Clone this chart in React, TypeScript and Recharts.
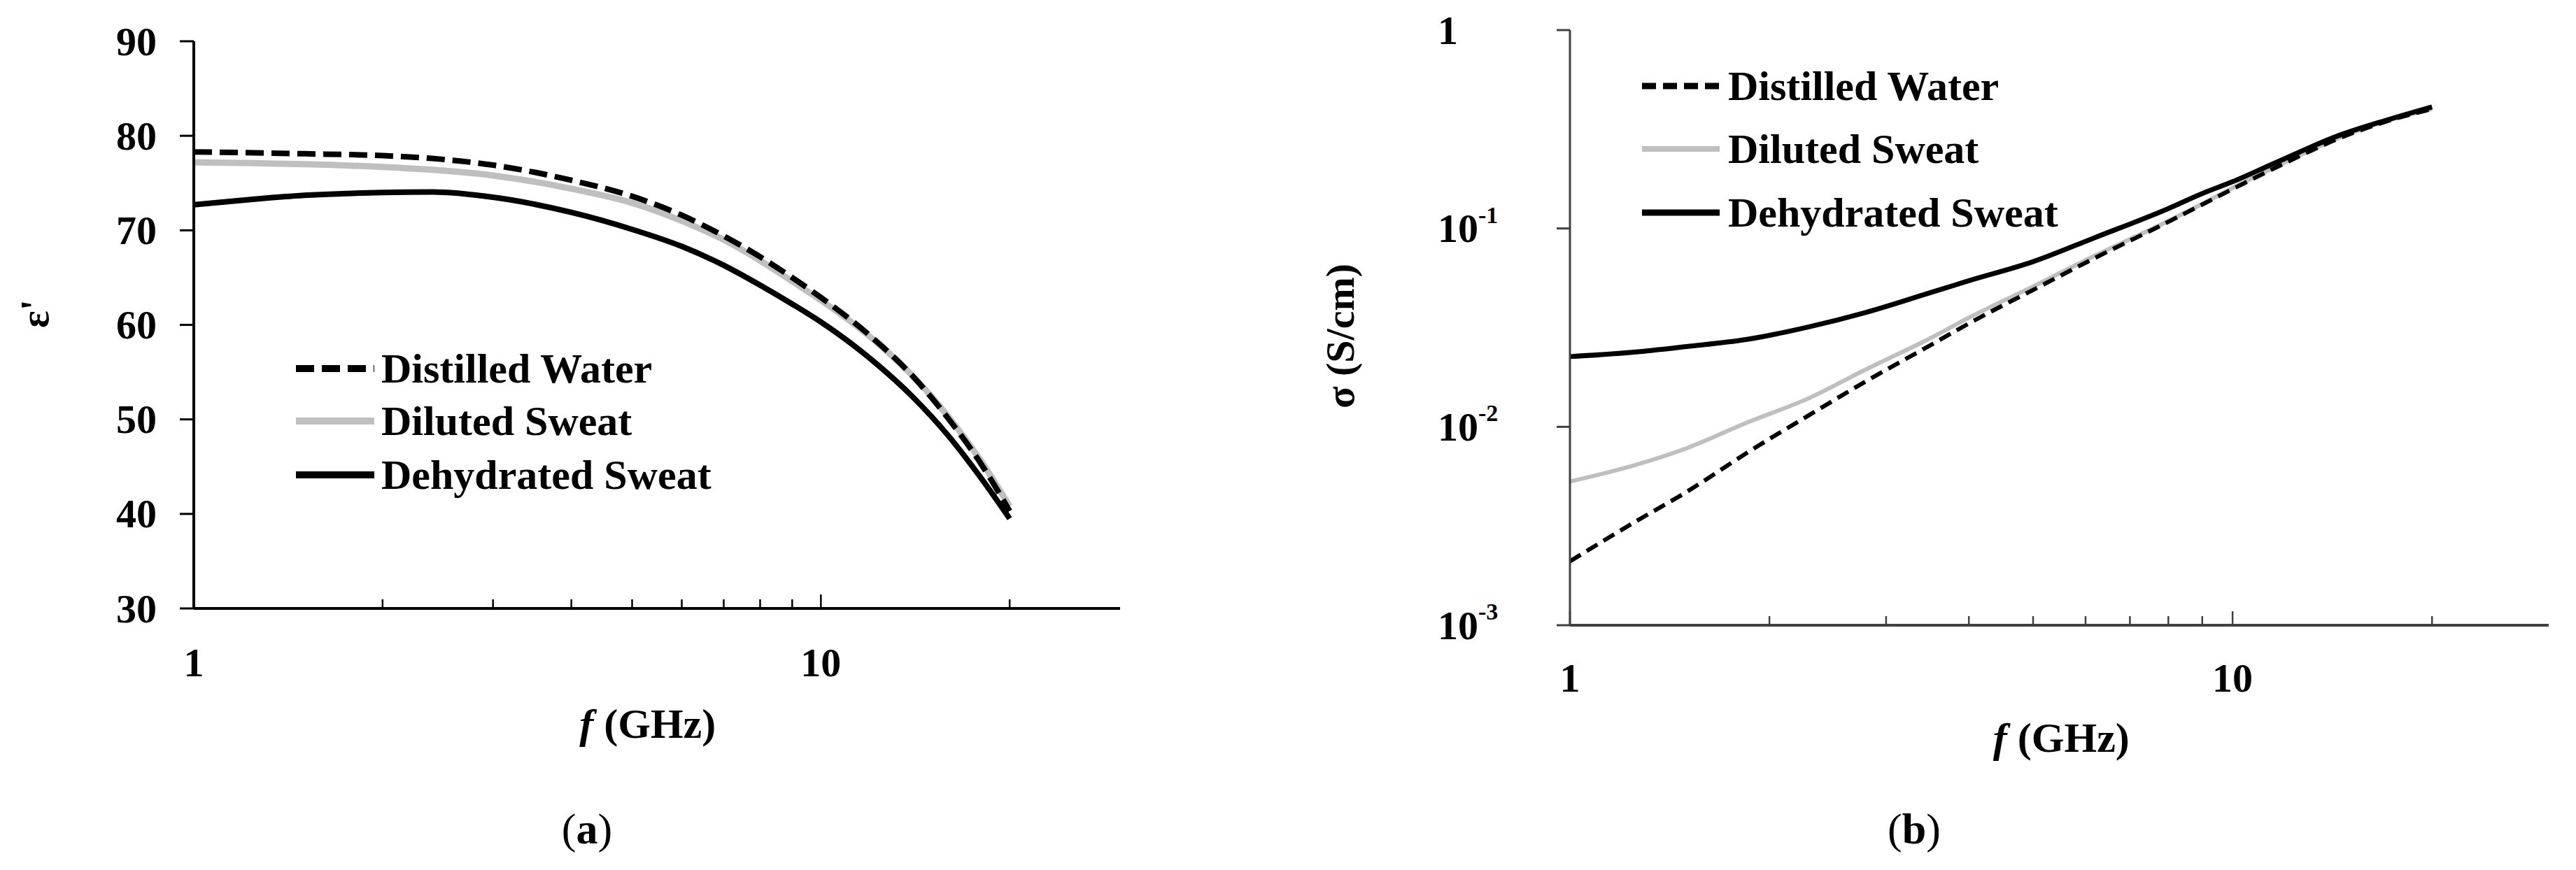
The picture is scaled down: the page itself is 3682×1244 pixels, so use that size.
import { LineChart, Line, XAxis, YAxis } from 'recharts'

const FONT = "'Liberation Serif', 'DejaVu Serif', serif"
const GRAY = '#BFBFBF'

// (a) real permittivity vs frequency
const freqA = [1, 1.25, 1.5, 2, 2.4, 3, 4, 5, 6, 7, 8, 9, 10, 12, 14, 16, 18, 20]
const distilledA = [78.3, 78.2, 78.1, 77.9, 77.6, 76.9, 75.3, 73.6, 71.6, 69.4, 67.2, 65.0, 62.9, 58.8, 54.6, 50.0, 45.3, 40.3]
const dilutedA = [77.2, 77.1, 77.0, 76.7, 76.4, 75.8, 74.4, 72.9, 71.0, 69.0, 66.8, 64.6, 62.6, 58.7, 54.6, 50.2, 45.6, 40.8]
const dehydratedA = [72.7, 73.3, 73.7, 74.0, 74.05, 73.5, 71.9, 70.1, 68.3, 66.3, 64.2, 62.2, 60.3, 56.4, 52.4, 48.2, 43.8, 39.5]

// (b) conductivity vs frequency
const freqB = [1, 1.25, 1.5, 1.85, 2.3, 2.8, 3.5, 4, 5, 6.2, 8, 9, 10, 11.7, 14.5, 17, 20]
const distilledB = [0.0021, 0.0033, 0.0047, 0.0074, 0.0115, 0.017, 0.0258, 0.0332, 0.049, 0.071, 0.108, 0.132, 0.158, 0.205, 0.285, 0.345, 0.4]
const dilutedB = [0.0053, 0.0064, 0.0078, 0.0105, 0.014, 0.0195, 0.028, 0.0355, 0.051, 0.073, 0.109, 0.133, 0.16, 0.207, 0.287, 0.347, 0.4]
const dehydratedB = [0.0226, 0.0238, 0.0254, 0.0276, 0.032, 0.0378, 0.0475, 0.0545, 0.068, 0.09, 0.126, 0.15, 0.172, 0.217, 0.295, 0.35, 0.41]

const xTicks = [1, 2, 3, 4, 5, 6, 7, 8, 9, 10, 20]
const xLabels = [1, 10]
const yTicksA = [30, 40, 50, 60, 70, 80, 90]
const yTicksB = [0.001, 0.01, 0.1, 1]
const seriesNames = ['Distilled Water', 'Diluted Sweat', 'Dehydrated Sweat']

const toRows = (freq: number[], vals: number[]) => freq.map((f, i) => ({ f, v: vals[i] }))

const XTick = ({ x, y, payload, labelDy, stroke }: any) => {
  const major = xLabels.includes(payload.value)
  return (
    <g>
      <line x1={x} x2={x} y1={y} y2={y - (major ? 20 : 13)} stroke={stroke} strokeWidth={2.5} />
      {major && (
        <text x={x} y={y + labelDy} textAnchor="middle" dominantBaseline="central"
          fontFamily={FONT} fontWeight="bold" fontSize={58} fill="#000">
          {payload.value}
        </text>
      )}
    </g>
  )
}

const YTickA = ({ x, y, payload }: any) => (
  <text x={x} y={y} textAnchor="end" dominantBaseline="central"
    fontFamily={FONT} fontWeight="bold" fontSize={58} fill="#000">
    {payload.value}
  </text>
)

const YTickB = ({ x, y, payload }: any) => {
  const exp = Math.round(Math.log10(payload.value))
  return (
    <text x={x} y={y} textAnchor="start" dominantBaseline="central"
      fontFamily={FONT} fontWeight="bold" fontSize={58} fill="#000">
      {exp === 0 ? '1' : (
        <>
          10<tspan dy={-20} fontSize={34}>{'-' + Math.abs(exp)}</tspan>
        </>
      )}
    </text>
  )
}

const xTitle = (fx: number, dy: number) => ({ viewBox }: any) => (
  <text x={viewBox.x + viewBox.width * fx} y={viewBox.y + dy} textAnchor="middle"
    dominantBaseline="central" fontFamily={FONT} fontWeight="bold" fontSize={60} fill="#000">
    <tspan fontStyle="italic">f</tspan> (GHz)
  </text>
)

const yTitle = (text: string, dx: number, dy: number) => ({ viewBox }: any) => {
  const cx = viewBox.x + dx
  const cy = viewBox.y + viewBox.height / 2 + dy
  return (
    <text x={cx} y={cy} transform={`rotate(-90 ${cx} ${cy})`} textAnchor="middle"
      dominantBaseline="central" fontFamily={FONT} fontWeight="bold" fontSize={58} fill="#000">
      {text}
    </text>
  )
}

interface LegendProps {
  left: number
  rows: number[]
  lineLen: number
  gap: number
  styles: { stroke: string; width: number; dash?: string }[]
}

function LegendBox({ left, rows, lineLen, gap, styles }: LegendProps) {
  return (
    <>
      {seriesNames.map((name, i) => (
        <div key={name} style={{
          position: 'absolute', left, top: rows[i] - 30, height: 60,
          display: 'flex', alignItems: 'center',
        }}>
          <svg width={lineLen} height={20}>
            <line x1={0} x2={lineLen} y1={10} y2={10} stroke={styles[i].stroke}
              strokeWidth={styles[i].width} strokeDasharray={styles[i].dash} />
          </svg>
          <span style={{
            marginLeft: gap, fontFamily: FONT, fontWeight: 'bold', fontSize: 60,
            lineHeight: '60px', whiteSpace: 'nowrap', color: '#000',
          }}>{name}</span>
        </div>
      ))}
    </>
  )
}

function Caption({ cx, letter }: { cx: number; letter: string }) {
  return (
    <div style={{
      position: 'absolute', left: cx - 100, width: 200, top: 1150, height: 70,
      textAlign: 'center', fontFamily: FONT, fontSize: 62, lineHeight: '70px', color: '#000',
    }}>
      (<b>{letter}</b>)
    </div>
  )
}

export default function App() {
  const dashA = '26 11'
  const dashB = '18 10'
  return (
    <div style={{ position: 'absolute', left: 0, top: 0, width: 3682, height: 1244, background: '#fff', overflow: 'hidden' }}>
      <div style={{ position: 'absolute', left: 0, top: 0 }}>
        <LineChart width={1700} height={1244} margin={{ top: 59, right: 99, bottom: 274, left: 177 }}>
          <XAxis dataKey="f" type="number" scale="log" domain={[1, 30]} allowDataOverflow
            ticks={xTicks} interval={0} height={100} tickSize={0} tickMargin={0} tickLine={false}
            axisLine={{ stroke: '#000', strokeWidth: 4 }}
            tick={<XTick labelDy={77} stroke="#000" />}
            label={{ content: xTitle(0.49, 165) }} />
          <XAxis xAxisId="top" orientation="top" type="number" domain={[0, 1]} height={0}
            tick={false} tickLine={false} axisLine={{ stroke: '#000', strokeWidth: 3 }} />
          <YAxis type="number" domain={[30, 90]} ticks={yTicksA} interval={0} width={100}
            tickSize={20} tickMargin={33} tickLine={{ stroke: '#000', strokeWidth: 3 }}
            axisLine={{ stroke: '#000', strokeWidth: 4 }} tick={<YTickA />}
            label={{ content: yTitle("ε'", -128, -16) }} />
          <YAxis yAxisId="right" orientation="right" type="number" domain={[0, 1]} width={0}
            tick={false} tickLine={false} axisLine={{ stroke: '#000', strokeWidth: 3 }} />
          <Line data={toRows(freqA, dilutedA)} dataKey="v" type="monotone" stroke={GRAY}
            strokeWidth={9} dot={false} isAnimationActive={false} />
          <Line data={toRows(freqA, dehydratedA)} dataKey="v" type="monotone" stroke="#000"
            strokeWidth={8} dot={false} isAnimationActive={false} />
          <Line data={toRows(freqA, distilledA)} dataKey="v" type="monotone" stroke="#000"
            strokeWidth={8} strokeDasharray={dashA} dot={false} isAnimationActive={false} />
        </LineChart>
      </div>

      <div style={{ position: 'absolute', left: 1800, top: 0 }}>
        <LineChart width={1882} height={1244} margin={{ top: 43, right: 39, bottom: 250, left: 344 }}>
          <XAxis dataKey="f" type="number" scale="log" domain={[1, 30]} allowDataOverflow
            ticks={xTicks} interval={0} height={100} tickSize={0} tickMargin={0} tickLine={false}
            axisLine={{ stroke: '#404040', strokeWidth: 4 }}
            tick={<XTick labelDy={75} stroke="#404040" />}
            label={{ content: xTitle(0.502, 161) }} />
          <XAxis xAxisId="top" orientation="top" type="number" domain={[0, 1]} height={0}
            tick={false} tickLine={false} axisLine={{ stroke: '#505050', strokeWidth: 3 }} />
          <YAxis type="number" scale="log" domain={[0.001, 1]} allowDataOverflow ticks={yTicksB}
            interval={0} width={100} tickSize={19} tickMargin={170}
            tickLine={{ stroke: '#404040', strokeWidth: 3 }}
            axisLine={{ stroke: '#404040', strokeWidth: 3 }} tick={<YTickB />}
            label={{ content: yTitle('σ (S/cm)', -229, 12) }} />
          <YAxis yAxisId="right" orientation="right" type="number" domain={[0, 1]} width={0}
            tick={false} tickLine={false} axisLine={{ stroke: '#505050', strokeWidth: 3 }} />
          <Line data={toRows(freqB, dilutedB)} dataKey="v" type="monotone" stroke={GRAY}
            strokeWidth={6} dot={false} isAnimationActive={false} />
          <Line data={toRows(freqB, distilledB)} dataKey="v" type="monotone" stroke="#000"
            strokeWidth={6} strokeDasharray={dashB} dot={false} isAnimationActive={false} />
          <Line data={toRows(freqB, dehydratedB)} dataKey="v" type="monotone" stroke="#000"
            strokeWidth={7} dot={false} isAnimationActive={false} />
        </LineChart>
      </div>

      <LegendBox left={423} rows={[527, 602, 679]} lineLen={112} gap={10}
        styles={[{ stroke: '#000', width: 10, dash: dashA }, { stroke: GRAY, width: 10 }, { stroke: '#000', width: 10 }]} />
      <LegendBox left={2347} rows={[123, 213, 304]} lineLen={111} gap={12}
        styles={[{ stroke: '#000', width: 9, dash: '20 10' }, { stroke: GRAY, width: 8 }, { stroke: '#000', width: 9 }]} />

      <Caption cx={839} letter="a" />
      <Caption cx={2736} letter="b" />
    </div>
  )
}
